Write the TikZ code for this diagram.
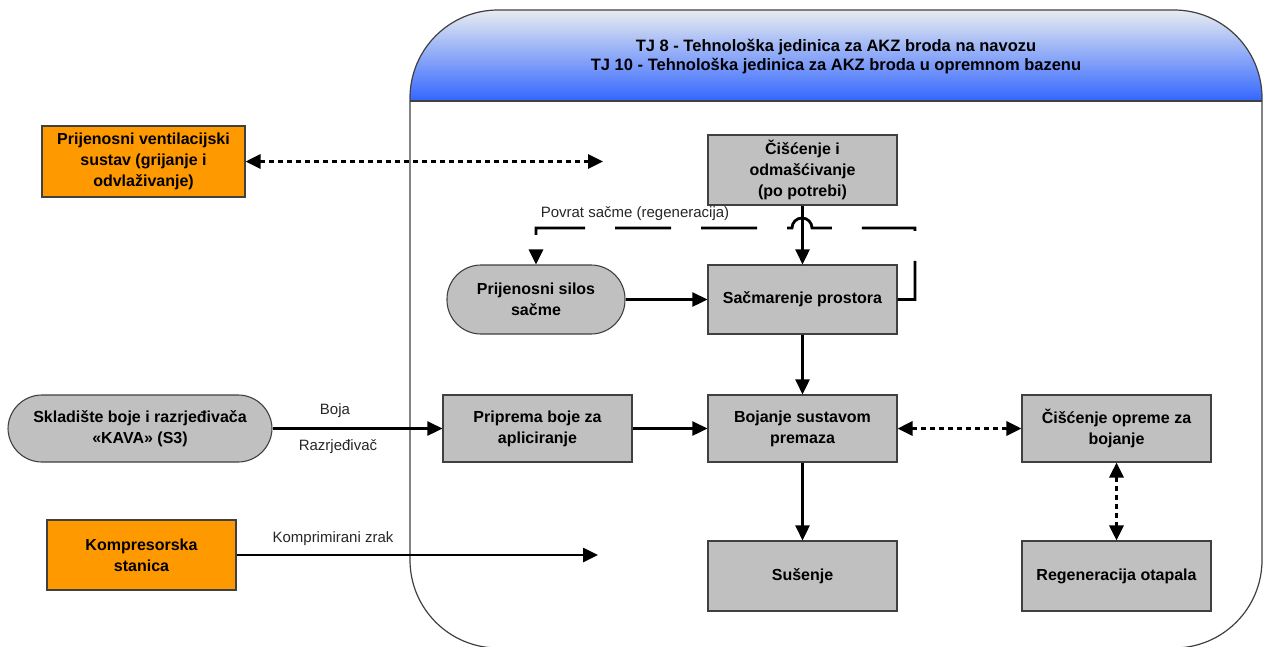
\documentclass[tikz,border=0pt]{standalone}
\usepackage{fontspec}
\setmainfont{Liberation Sans}
\usetikzlibrary{arrows.meta}
\definecolor{boxgray}{HTML}{C0C0C0}
\definecolor{extorange}{HTML}{FF9900}
\definecolor{headtop}{HTML}{ECEFF0}
\definecolor{headblue}{HTML}{3366FF}
\definecolor{edgegray}{HTML}{404040}
\tikzset{
  proc/.style={draw=edgegray, fill=boxgray, line width=1.1pt, minimum width=189pt, minimum height=70pt,
    align=center, inner sep=2pt, font=\bfseries\fontsize{16}{21}\selectfont},
  ext/.style={proc, fill=extorange},
  pill/.style={proc, rounded corners=34pt},
  tip/.tip={Triangle[length=15pt,width=14pt]},
  flow/.style={line width=2.6pt, -tip},
  dflow/.style={line width=3pt, dash pattern=on 5pt off 4pt, tip-tip},
  retflow/.style={line width=2.8pt, dash pattern=on 56pt off 30pt, -tip},
  lbl/.style={font=\fontsize{15}{17}\selectfont, text=black!85, inner sep=1pt}
}
\begin{document}
\begin{tikzpicture}[x=1pt,y=-1pt]
\useasboundingbox (0,0) rectangle (1264,646);
\begin{scope}
  \clip (0,0) rectangle (1264,646);
  \begin{scope}
    \clip[rounded corners=88pt] (410,10) rectangle (1262,648);
    \shade[top color=headtop, bottom color=headblue] (405,8) rectangle (1266,101);
  \end{scope}
  \draw[edgegray, line width=1.2pt, rounded corners=88pt] (410,10) rectangle (1262,648);
  \draw[edgegray, line width=1.2pt] (410,101) -- (1262,101);
\end{scope}
\node[font=\bfseries\fontsize{16.5}{19}\selectfont, align=center] (title) at (836,56.5)
  {TJ 8 - Tehnološka jedinica za AKZ broda na navozu\\TJ 10 - Tehnološka jedinica za AKZ broda u opremnom bazenu};

% nodes
\node[ext, minimum width=203pt, minimum height=71pt] (vent) at (143.5,161.5) {Prijenosni ventilacijski\\sustav (grijanje i\\odvlaživanje)};
\node[proc] (cisc) at (802.5,170) {Čišćenje i\\odmašćivanje\\(po potrebi)};
\node[pill, minimum width=178pt, minimum height=69pt] (silos) at (536,299.5) {Prijenosni silos\\sačme};
\node[proc, minimum height=69pt] (sacm) at (802.5,299.5) {Sačmarenje prostora};
\node[pill, minimum width=264pt, minimum height=67pt] (sklad) at (140,428.5) {Skladište boje i razrjeđivača\\«KAVA» (S3)};
\node[proc, minimum height=67pt] (prip) at (537.5,428.5) {Priprema boje za\\apliciranje};
\node[proc, minimum height=67pt] (boj) at (802.5,428.5) {Bojanje sustavom\\premaza};
\node[proc, minimum height=67pt] (ciscop) at (1116.5,428.5) {Čišćenje opreme za\\bojanje};
\node[proc] (sus) at (802.5,576) {Sušenje};
\node[proc] (regen) at (1116.5,576) {Regeneracija otapala};
\node[ext] (kompr) at (141.5,555) {Kompresorska\\stanica};

\coordinate (ventend) at (603,161.5);
\coordinate (komprend) at (598,555);

% connectors
\draw[dflow] (vent.east) -- (ventend);
\draw[flow] (cisc.south) -- (sacm.north);
\draw[retflow] (sacm.east) -- (915,299.5) -- (915,228) -- (812,228)
   arc[start angle=0, end angle=180, radius=10pt] -- (536,228) -- (silos.north);
\node[lbl] (povrat) at (635,214) {Povrat sačme (regeneracija)};
\draw[flow] (silos.east) -- (sacm.west);
\draw[flow] (sacm.south) -- (boj.north);
\draw[flow] (sklad.east) -- (prip.west);
\node[lbl] (boja) at (335,411) {Boja};
\node[lbl] (razr) at (338,447) {Razrjeđivač};
\draw[flow] (prip.east) -- (boj.west);
\draw[dflow] (boj.east) -- (ciscop.west);
\draw[dflow] (ciscop.south) -- (regen.north);
\draw[flow] (boj.south) -- (sus.north);
\draw[flow] (kompr.east) -- (komprend);
\node[lbl] (zrak) at (333,539) {Komprimirani zrak};
\end{tikzpicture}
\end{document}
